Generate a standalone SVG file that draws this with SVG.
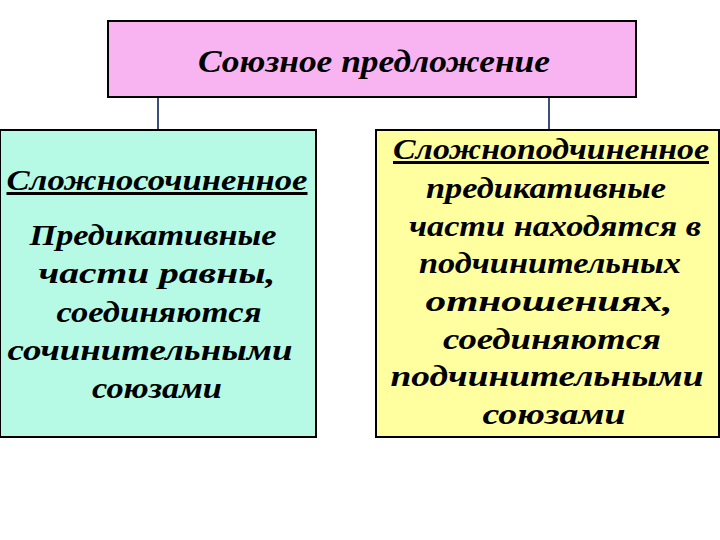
<svg xmlns="http://www.w3.org/2000/svg" width="720" height="540" viewBox="0 0 720 540">
<style>
.box{stroke:#000;stroke-width:2}
.t{font-family:"Liberation Serif","Times New Roman",serif;font-weight:bold;font-style:italic;fill:#000;text-anchor:middle;font-size:30px}
.u{text-decoration:underline}
.conn{stroke:#3C4F7A;stroke-width:2;fill:none}
</style>
<rect width="720" height="540" fill="#fff"/>
<g id="connectors">
<line class="conn" x1="158" y1="97" x2="158" y2="130"/>
<line class="conn" x1="549" y1="97" x2="549" y2="130"/>
</g>
<g id="root">
<rect class="box" x="108" y="21" width="528" height="76" fill="#F8B4F0"/>
<text class="t" x="374" y="72" style="font-size:31px" textLength="352" lengthAdjust="spacingAndGlyphs">Союзное предложение</text>
</g>
<g id="left">
<rect class="box" x="0" y="130" width="316" height="307" fill="#B6FAE6"/>
<text class="t u" x="157" y="190" textLength="301" lengthAdjust="spacingAndGlyphs">Сложносочиненное</text>
<text class="t" x="153" y="245" textLength="247" lengthAdjust="spacingAndGlyphs">Предикативные</text>
<text class="t" x="157" y="283" textLength="237" lengthAdjust="spacingAndGlyphs">части равны,</text>
<text class="t" x="159" y="322" textLength="205" lengthAdjust="spacingAndGlyphs">соединяются</text>
<text class="t" x="150" y="360" textLength="285" lengthAdjust="spacingAndGlyphs">сочинительными</text>
<text class="t" x="157" y="398" textLength="130" lengthAdjust="spacingAndGlyphs">союзами</text>
</g>
<g id="right">
<rect class="box" x="376" y="130" width="343" height="307" fill="#FFFFA0"/>
<text class="t u" x="551" y="159" textLength="316" lengthAdjust="spacingAndGlyphs">Сложноподчиненное</text>
<text class="t" x="546" y="198" textLength="240" lengthAdjust="spacingAndGlyphs">предикативные</text>
<text class="t" x="555" y="236" textLength="292" lengthAdjust="spacingAndGlyphs">части находятся в</text>
<text class="t" x="550" y="273" textLength="262" lengthAdjust="spacingAndGlyphs">подчинительных</text>
<text class="t" x="549" y="311" textLength="247" lengthAdjust="spacingAndGlyphs">отношениях,</text>
<text class="t" x="552" y="349" textLength="218" lengthAdjust="spacingAndGlyphs">соединяются</text>
<text class="t" x="547" y="386" textLength="313" lengthAdjust="spacingAndGlyphs">подчинительными</text>
<text class="t" x="554" y="424" textLength="143" lengthAdjust="spacingAndGlyphs">союзами</text>
</g>
</svg>
